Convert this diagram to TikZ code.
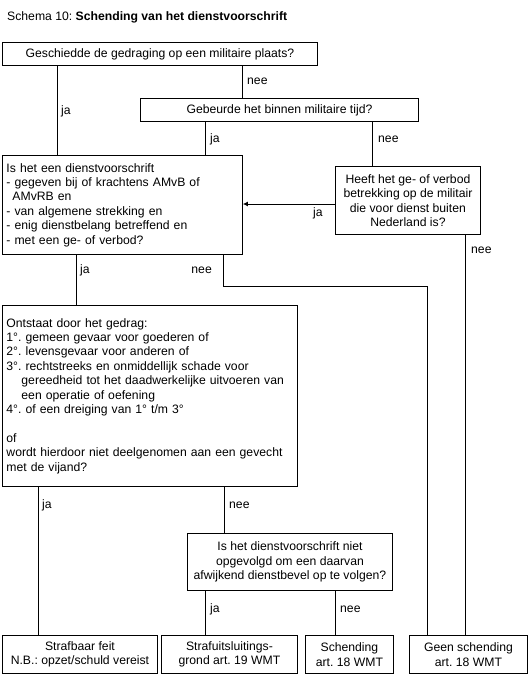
\documentclass[tikz,border=0pt]{standalone}
\usepackage{fontspec}
\setmainfont{Liberation Sans}
\usetikzlibrary{arrows.meta}
\frenchspacing
\begin{document}
\begin{tikzpicture}[x=1pt,y=-1pt,
  every node/.style={font=\fontsize{12.2}{14.4}\selectfont, inner sep=0pt},
  box/.style={draw, line width=0.9pt, anchor=north west, align=center},
  tbox/.style={draw, line width=0.9pt, anchor=north west, align=left, inner xsep=4pt, inner ysep=0pt},
  lab/.style={anchor=base west},
  labr/.style={anchor=base east},
  conn/.style={line width=0.9pt},
]
\useasboundingbox (0,0) rectangle (530,675);
\node[anchor=base west] (title) at (7,20.5) {Schema 10: \textbf{Schending van het dienstvoorschrift}};

\node[box, minimum width=315pt, minimum height=23pt] (b1) at (2,42) {Geschiedde de gedraging op een militaire plaats?};
\node[box, minimum width=278pt, minimum height=23pt] (b2) at (140,98) {Gebeurde het binnen militaire tijd?};
\node[tbox, text width=232pt, minimum height=99pt] (b3) at (2,155) {Is het een dienstvoorschrift\\
- gegeven bij of krachtens AMvB of\\
\hspace*{6pt}AMvRB en\\
- van algemene strekking en\\
- enig dienstbelang betreffend en\\
- met een ge- of verbod?};
\node[box, minimum width=145pt, minimum height=68pt] (b4) at (335,166) {Heeft het ge- of verbod\\betrekking op de militair\\die voor dienst buiten\\Nederland is?};
\node[tbox, text width=287pt, minimum height=181pt] (b5) at (2,305) {Ontstaat door het gedrag:\\
1°. gemeen gevaar voor goederen of\\
2°. levensgevaar voor anderen of\\
3°. rechtstreeks en onmiddellijk schade voor\\
\hspace*{15pt}gereedheid tot het daadwerkelijke uitvoeren van\\
\hspace*{15pt}een operatie of oefening\\
4°. of een dreiging van 1° t/m 3°\\[14.4pt]
of\\
wordt hierdoor niet deelgenomen aan een gevecht\\
met de vijand?};
\node[box, minimum width=205pt, minimum height=57pt] (b6) at (187,533) {Is het dienstvoorschrift niet\\opgevolgd om een daarvan\\afwijkend dienstbevel op te volgen?};
\node[box, minimum width=155pt, minimum height=38pt] (b7) at (2,635) {Strafbaar feit\\N.B.: opzet/schuld vereist};
\node[box, minimum width=136pt, minimum height=38pt] (b8) at (161,635) {Strafuitsluitings-\\grond art. 19 WMT};
\node[box, minimum width=88pt, minimum height=38pt] (b9) at (305,635) {Schending\\art. 18 WMT};
\node[box, minimum width=118pt, minimum height=38pt] (b10) at (409,635) {Geen schending\\art. 18 WMT};

\coordinate (xa) at (57,0);
\coordinate (xb) at (242,0);
\coordinate (xc) at (205,0);
\coordinate (xd) at (372,0);
\coordinate (xe) at (465,0);
\coordinate (xf) at (76,0);
\coordinate (xg) at (223,0);
\coordinate (xh) at (427,0);
\coordinate (xi) at (38,0);
\coordinate (xj) at (224,0);
\coordinate (xk) at (335,0);
\coordinate (ya) at (0,204);
\coordinate (yb) at (0,286);

\draw[conn] (b1.south -| xa) -- (b3.north -| xa);
\draw[conn] (b1.south -| xb) -- (b2.north -| xb);
\draw[conn] (b2.south -| xc) -- (b3.north -| xc);
\draw[conn] (b2.south -| xd) -- (b4.north -| xd);
\draw[conn, -{Latex[length=5pt,width=5pt]}] (b4.west |- ya) -- (b3.east |- ya);
\draw[conn] (b4.south -| xe) -- (b10.north -| xe);
\draw[conn] (b3.south -| xf) -- (b5.north -| xf);
\draw[conn] (b3.south -| xg) -- (xg |- yb) -- (xh |- yb) -- (b10.north -| xh);
\draw[conn] (b5.south -| xi) -- (b7.north -| xi);
\draw[conn] (b5.south -| xj) -- (b6.north -| xj);
\draw[conn] (b6.south -| xc) -- (b8.north -| xc);
\draw[conn] (b6.south -| xk) -- (b9.north -| xk);

\node[lab] (l1) at (247,84) {nee};
\node[lab] (l2) at (61,114) {ja};
\node[lab] (l3) at (210,142) {ja};
\node[lab] (l4) at (378,142) {nee};
\node[lab] (l5) at (313,216) {ja};
\node[lab] (l6) at (471,253) {nee};
\node[lab] (l7) at (80,273) {ja};
\node[labr] (l8) at (212,273) {nee};
\node[lab] (l9) at (42,508) {ja};
\node[lab] (l10) at (229,508) {nee};
\node[lab] (l11) at (210,612) {ja};
\node[lab] (l12) at (340,612) {nee};
\end{tikzpicture}
\end{document}
